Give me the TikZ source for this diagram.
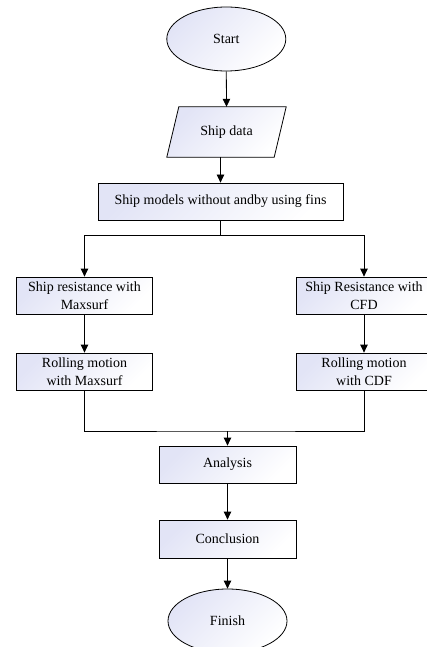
\documentclass[tikz,border=0pt]{standalone}
\usepackage{fontspec}
\setmainfont{Liberation Serif}
\usetikzlibrary{shapes.geometric,arrows.meta}
\definecolor{lav}{RGB}{226,228,246}
\tikzset{
  fillgrad/.style={left color=lav, right color=white, shading angle=45},
  procbox/.style={draw, line width=0.8pt, fillgrad, rectangle, minimum width=136pt, minimum height=37pt, inner sep=0pt, align=center, font=\fontsize{14}{17.5}\selectfont},
  termnode/.style={draw, line width=0.8pt, fillgrad, ellipse, minimum width=119pt, minimum height=64pt, inner sep=0pt, font=\fontsize{14}{17}\selectfont},
  plain/.style={rectangle, minimum width=107pt, minimum height=50pt, inner sep=0pt, font=\fontsize{14}{17}\selectfont},
  conn/.style={line width=0.8pt, -{Triangle[length=8pt,width=7.5pt]}},
  line/.style={line width=0.8pt}
}
\begin{document}
\begin{tikzpicture}[x=1pt,y=-1pt]
\useasboundingbox (0,0) rectangle (427,647);
\clip (0,0) rectangle (427,647);
\node[termnode] (start) at (226.3,39) {Start};
% parallelogram
\node[plain] (data) at (226.5,132) {};
\path[draw, line width=0.8pt, fillgrad]
  ([xshift=6pt]data.north west) -- ([xshift=6pt]data.north east) --
  ([xshift=-6pt]data.south east) -- ([xshift=-6pt]data.south west) -- cycle;
\node[plain] at (data.center) {Ship data};
\node[procbox, minimum width=245pt] (model) at (220.5,201.5) {Ship models without andby using fins};
\node[procbox] (r1) at (84.5,295.5) {Ship resistance with\\Maxsurf};
\node[procbox] (r2) at (364,295.5) {Ship Resistance with\\CFD};
\node[procbox] (m1) at (84.5,371.5) {Rolling motion\\with Maxsurf};
\node[procbox] (m2) at (364,371.5) {Rolling motion\\with CDF};
\node[procbox, minimum width=137pt] (ana) at (227.5,464.5) {Analysis};
\node[procbox, minimum width=137pt, minimum height=38pt] (con) at (227.5,539) {Conclusion};
\node[termnode] (fin) at (227.5,621) {Finish};
\coordinate (split) at (220.5,235);
\coordinate (join) at (227.5,431);
\draw[conn] (start.south) -- (data.north);
\draw[conn] ([xshift=-6pt]data.south) -- (model.north);
\draw[line] (model.south) -- (split);
\draw[conn] (split) -| (r1.north);
\draw[conn] (split) -| (r2.north);
\draw[conn] (r1.south) -- (m1.north);
\draw[conn] (r2.south) -- (m2.north);
\draw[line] (m1.south) |- (join) -| (m2.south);
\draw[conn] (join) -- (ana.north);
\draw[conn] (ana.south) -- (con.north);
\draw[conn] (con.south) -- (fin.north);
\end{tikzpicture}
\end{document}
